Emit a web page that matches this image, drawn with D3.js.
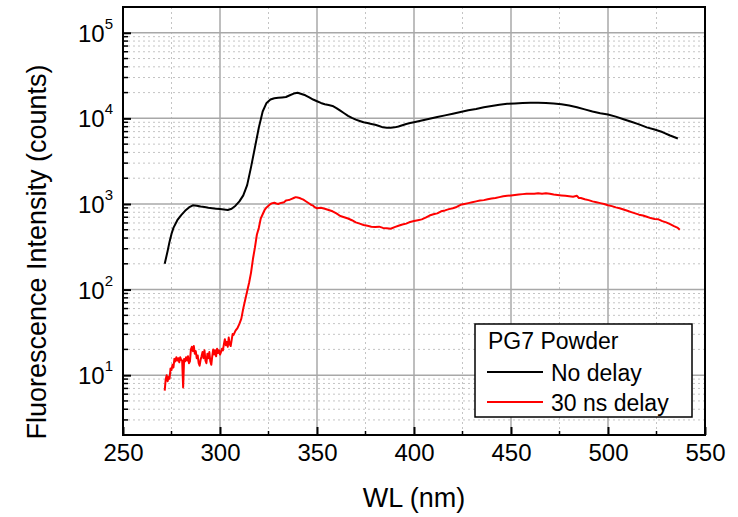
<!DOCTYPE html>
<html>
<head>
<meta charset="utf-8">
<script src="https://cdn.jsdelivr.net/npm/d3@7"></script>
<style>
  body { margin: 0; background: #fff; }
  text { font-family: "Liberation Sans", Arial, sans-serif; fill: #000; }
</style>
</head>
<body>
<script>
// DATA (wavelength in nm, counts)
const noDelayWL = [271.5, 273, 274, 275, 276, 278, 280, 282, 284, 286, 288, 290, 292, 294, 296, 298, 300, 302, 304, 306, 308, 310, 312, 314, 316, 318, 320, 322, 324, 326, 328, 330, 332, 334, 336, 338, 340, 342, 344, 346, 348, 350, 352, 354, 356, 358, 360, 362, 364, 366, 368, 370, 372, 374, 376, 378, 380, 382, 384, 386, 388, 390, 392, 394, 396, 398, 400, 404, 408, 412, 416, 420, 424, 428, 432, 436, 440, 444, 448, 452, 456, 460, 464, 468, 472, 476, 480, 484, 488, 492, 496, 500, 504, 508, 512, 516, 520, 524, 528, 532, 536];
const noDelay = [200, 282, 363, 447, 525, 646, 741, 832, 912, 966, 955, 933, 923, 902, 891, 881, 871, 861, 851, 881, 955, 1072, 1259, 1660, 2692, 4571, 7762, 12023, 15136, 16596, 17179, 17378, 17579, 17783, 18621, 19498, 19953, 19275, 18621, 17579, 16596, 15849, 15136, 14622, 14289, 13964, 13183, 12303, 11482, 10715, 10116, 9661, 9333, 9016, 8810, 8610, 8414, 8128, 7852, 7762, 7762, 7852, 8035, 8318, 8610, 8810, 9016, 9441, 9886, 10351, 10839, 11350, 11885, 12445, 12882, 13490, 13964, 14454, 14791, 14962, 15136, 15205, 15241, 15136, 14962, 14622, 14125, 13490, 12735, 12023, 11482, 11092, 10471, 9772, 9120, 8511, 7852, 7413, 6918, 6310, 5821];

const delayWL = [271.5, 272, 272.5, 273, 273.5, 274, 274.5, 275, 275.5, 276, 276.5, 277, 277.5, 278, 278.5, 279, 279.5, 280, 280.5, 281, 281.5, 282, 282.5, 283, 283.5, 284, 284.5, 285, 285.5, 286, 286.5, 287, 287.5, 288, 288.5, 289, 289.5, 290, 290.5, 291, 291.5, 292, 292.5, 293, 293.5, 294, 294.5, 295, 295.5, 296, 296.5, 297, 297.5, 298, 298.5, 299, 299.5, 300, 300.5, 301, 301.5, 302, 302.5, 303, 303.5, 304, 304.5, 305, 305.5, 306, 306.5, 307, 308, 309, 310, 311, 312, 313, 314, 315, 316, 317, 318, 319, 320, 321, 322, 323, 324, 325, 326, 327, 328, 329, 330, 331, 332, 333, 334, 335, 336, 337, 338, 339, 340, 341, 342, 343, 344, 345, 346, 347, 348, 349, 350, 352, 354, 356, 358, 360, 362, 364, 366, 368, 370, 372, 374, 376, 378, 380, 382, 384, 386, 388, 390, 392, 394, 396, 398, 400, 402, 404, 406, 408, 410, 412, 414, 416, 418, 420, 422, 424, 426, 428, 430, 432, 434, 436, 438, 440, 442, 444, 446, 448, 450, 452, 454, 456, 458, 460, 462, 464, 466, 468, 470, 472, 474, 476, 478, 480, 482, 484, 485, 486, 488, 490, 492, 494, 496, 498, 500, 502, 504, 506, 508, 510, 512, 514, 516, 518, 520, 522, 524, 526, 528, 530, 532, 534, 536, 537];
const delay = [6.6, 8.9, 10.0, 8.5, 9.5, 9.1, 12.0, 11.5, 13.2, 12.3, 15.5, 14.5, 16.2, 14.8, 15.8, 14.1, 16.2, 15.1, 14.8, 7.2, 15.5, 14.5, 16.2, 14.8, 16.6, 13.8, 14.5, 20, 21.4, 19.1, 21.9, 17.8, 19.1, 15.8, 17.0, 13.8, 12.9, 15.1, 16.6, 18.6, 15.8, 19.5, 14.8, 13.8, 17.8, 15.8, 18.6, 14.5, 13.2, 16.6, 20, 17.4, 19.5, 16.6, 20.4, 18.2, 19.5, 17.4, 18.6, 20.4, 19.5, 22.9, 26.3, 22.4, 24.5, 21.4, 27.5, 22.9, 21.9, 25.7, 30.2, 29.5, 33.1, 35.5, 39.8, 45.7, 60.3, 75.9, 95.5, 120, 158, 229, 309, 437, 525, 676, 759, 851, 912, 955, 1000, 1023, 1035, 1012, 1000, 1023, 1035, 1047, 1096, 1109, 1122, 1148, 1175, 1202, 1189, 1175, 1148, 1122, 1084, 1047, 1012, 977, 955, 912, 891, 902, 881, 851, 822, 776, 724, 700, 676, 646, 610, 589, 569, 556, 543, 537, 543, 525, 519, 513, 537, 556, 575, 589, 617, 631, 646, 661, 692, 733, 759, 776, 822, 841, 871, 891, 923, 977, 1000, 1023, 1047, 1072, 1096, 1109, 1135, 1161, 1175, 1202, 1230, 1245, 1259, 1274, 1288, 1303, 1318, 1318, 1318, 1334, 1318, 1334, 1318, 1288, 1274, 1259, 1245, 1230, 1216, 1245, 1175, 1175, 1135, 1109, 1072, 1047, 1023, 1000, 966, 944, 912, 891, 861, 832, 804, 776, 750, 733, 708, 684, 668, 661, 631, 610, 582, 550, 525, 501];

const xTicks = [250, 300, 350, 400, 450, 500, 550];
const xMinor = [275, 325, 375, 425, 475, 525];
const yTicks = [1e1, 1e2, 1e3, 1e4, 1e5];
const yExp = ['1', '2', '3', '4', '5'];
const legendTitle = 'PG7 Powder';
const seriesNames = ['No delay', '30 ns delay'];
const seriesColors = ['#000000', '#ff0000'];

const W = 738, H = 517;
const plot = { left: 123, right: 705, top: 7, bottom: 435 };

const svg = d3.select('body').append('svg')
    .attr('width', W)
    .attr('height', H);

// SCALES
const x = d3.scaleLinear().domain([250, 550]).range([plot.left, plot.right]);
const y = d3.scaleLog().domain([2, 2e5]).range([plot.bottom, plot.top]);

// minor y values 2..9 per decade inside the domain
const yMinor = [];
[1, 10, 100, 1000, 10000, 100000].forEach(function(dec) {
    for (let k = 2; k <= 9; k++) {
        const v = dec * k;
        if (v > 2 && v < 2e5) yMinor.push(v);
    }
});

// GRID
const grid = svg.append('g');
grid.selectAll('.xminor').data(xMinor).enter().append('line')
    .attr('x1', d => x(d)).attr('x2', d => x(d))
    .attr('y1', plot.top).attr('y2', plot.bottom)
    .attr('stroke', '#c4c4c4').attr('stroke-width', 1).attr('stroke-dasharray', '2,3');
grid.selectAll('.yminor').data(yMinor).enter().append('line')
    .attr('x1', plot.left).attr('x2', plot.right)
    .attr('y1', d => y(d)).attr('y2', d => y(d))
    .attr('stroke', '#c4c4c4').attr('stroke-width', 1).attr('stroke-dasharray', '2,3');
grid.selectAll('.xmajor').data(xTicks.slice(1, -1)).enter().append('line')
    .attr('x1', d => x(d)).attr('x2', d => x(d))
    .attr('y1', plot.top).attr('y2', plot.bottom)
    .attr('stroke', '#a8a8a8').attr('stroke-width', 1.5);
grid.selectAll('.ymajor').data(yTicks).enter().append('line')
    .attr('x1', plot.left).attr('x2', plot.right)
    .attr('y1', d => y(d)).attr('y2', d => y(d))
    .attr('stroke', '#a8a8a8').attr('stroke-width', 1.5);

// LINES
const line = d3.line()
    .x(d => x(d[0]))
    .y(d => y(d[1]));

const series = [
    d3.zip(noDelayWL, noDelay),
    d3.zip(delayWL, delay)
];

svg.selectAll('.series').data(series).enter().append('path')
    .attr('d', line)
    .attr('fill', 'none')
    .attr('stroke', (d, i) => seriesColors[i])
    .attr('stroke-width', 2)
    .attr('stroke-linejoin', 'round');

// FRAME
svg.append('rect')
    .attr('x', plot.left).attr('y', plot.top)
    .attr('width', plot.right - plot.left).attr('height', plot.bottom - plot.top)
    .attr('fill', 'none').attr('stroke', '#000').attr('stroke-width', 2);

// AXES
const xAxis = svg.append('g')
    .attr('transform', 'translate(0,' + plot.bottom + ')')
    .call(d3.axisBottom(x).tickValues(xTicks).tickSize(-8).tickFormat(d3.format('d')));
xAxis.select('.domain').remove();
xAxis.selectAll('.tick line').attr('stroke-width', 2);
xAxis.selectAll('.tick text')
    .attr('y', 26)
    .attr('dy', 0)
    .style('font-size', '24px')
    .style('font-family', '"Liberation Sans", Arial, sans-serif');

xAxis.selectAll('.minor').data(xMinor).enter().append('line')
    .attr('x1', d => x(d)).attr('x2', d => x(d))
    .attr('y1', 0).attr('y2', -4)
    .attr('stroke', '#000').attr('stroke-width', 1.5);

const yAxis = svg.append('g')
    .attr('transform', 'translate(' + plot.left + ',0)')
    .call(d3.axisLeft(y).tickValues(yTicks).tickSize(-8).tickFormat(''));
yAxis.select('.domain').remove();
yAxis.selectAll('.tick line').attr('stroke-width', 2);

yAxis.selectAll('.minor').data(yMinor).enter().append('line')
    .attr('x1', 0).attr('x2', 5)
    .attr('y1', d => y(d)).attr('y2', d => y(d))
    .attr('stroke', '#000').attr('stroke-width', 1.5);

const yLabels = yAxis.selectAll('.ylab').data(yTicks).enter().append('text')
    .attr('x', -45)
    .attr('y', d => y(d) + 9)
    .attr('text-anchor', 'start')
    .style('font-size', '24px');
yLabels.append('tspan').text('10');
yLabels.append('tspan')
    .attr('dy', -13)
    .style('font-size', '15px')
    .text((d, i) => yExp[i]);

// AXIS TITLES
svg.append('text')
    .attr('x', (plot.left + plot.right) / 2)
    .attr('y', 507)
    .attr('text-anchor', 'middle')
    .style('font-size', '27px')
    .text('WL (nm)');

svg.append('text')
    .attr('transform', 'translate(46,' + ((plot.top + plot.bottom) / 2 + 31) + ') rotate(-90)')
    .attr('text-anchor', 'middle')
    .style('font-size', '27px')
    .text('Fluorescence Intensity (counts)');

// LEGEND
const lg = svg.append('g').attr('transform', 'translate(475,324)');
lg.append('rect')
    .attr('width', 217).attr('height', 93)
    .attr('fill', '#fff').attr('stroke', '#000').attr('stroke-width', 1.5);
lg.append('text')
    .attr('x', 13).attr('y', 25)
    .style('font-size', '23px')
    .text(legendTitle);
seriesNames.forEach(function(name, i) {
    const row = lg.append('g').attr('transform', 'translate(0,' + (48 + i * 30) + ')');
    row.append('line')
        .attr('x1', 12).attr('x2', 68)
        .attr('y1', 0).attr('y2', 0)
        .attr('stroke', seriesColors[i]).attr('stroke-width', 2);
    row.append('text')
        .attr('x', 76).attr('y', 9)
        .style('font-size', '23px')
        .text(name);
});
</script>
</body>
</html>
